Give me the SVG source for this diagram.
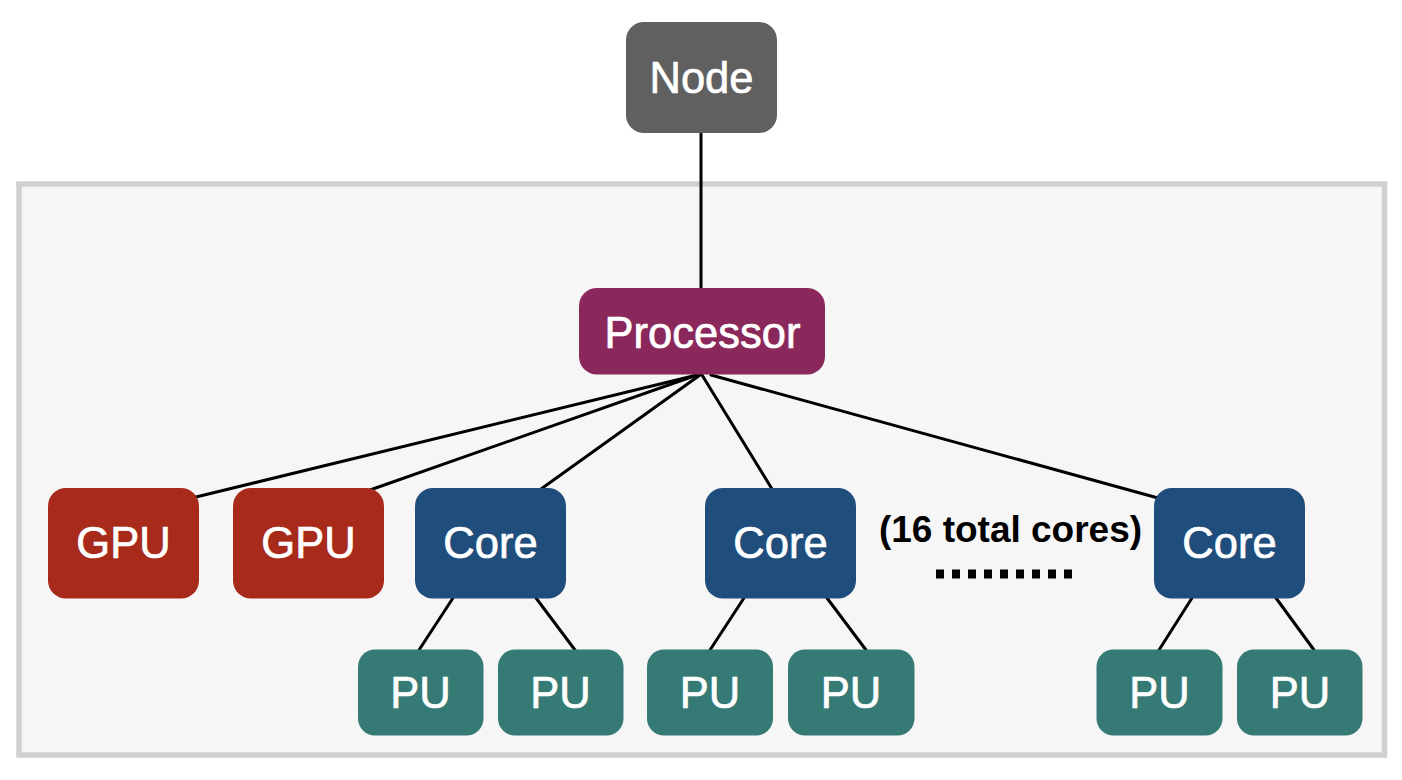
<svg xmlns="http://www.w3.org/2000/svg" width="1402" height="780" viewBox="0 0 1402 780">
<style>
.lbl{font-family:"Liberation Sans",Arial,Helvetica,sans-serif;font-size:43.5px;fill:#ffffff;stroke:#ffffff;stroke-width:0.7;text-anchor:middle}
.conn line{stroke:#000;stroke-width:3;stroke-linecap:round}
.node{fill:#606060}
.proc{fill:#8B285B}
.gpu{fill:#A72A1A}
.core{fill:#1F4E7D}
.pu{fill:#357A75}
</style>
<rect width="1402" height="780" fill="#ffffff"/>
<rect id="container" x="19" y="184" width="1365.5" height="571" fill="#f6f6f6" stroke="#d0d0d0" stroke-width="5.5"/>
<g id="connectors" class="conn">
<line x1="701" y1="133" x2="701" y2="288"/>
<line x1="697" y1="375" x2="196" y2="497"/>
<line x1="697" y1="375" x2="370" y2="490"/>
<line x1="700" y1="375" x2="541" y2="489"/>
<line x1="702" y1="375" x2="772" y2="489"/>
<line x1="711" y1="375" x2="1158" y2="498"/>
<line x1="453" y1="598" x2="419" y2="650"/>
<line x1="536" y1="598" x2="575" y2="650"/>
<line x1="744" y1="598" x2="710" y2="650"/>
<line x1="827" y1="598" x2="866" y2="650"/>
<line x1="1192" y1="598" x2="1159" y2="650"/>
<line x1="1276" y1="598" x2="1314" y2="650"/>
</g>
<g id="node-node"><rect class="node" x="626" y="22" width="151" height="111" rx="18"/><text class="lbl" x="701.5" y="92.5">Node</text></g>
<g id="node-processor"><rect class="proc" x="579" y="288" width="246" height="86.5" rx="18"/><text class="lbl" x="702.5" y="347.5">Processor</text></g>
<g id="node-gpu1"><rect class="gpu" x="48" y="488" width="151" height="110.5" rx="18"/><text class="lbl" x="123.5" y="558">GPU</text></g>
<g id="node-gpu2"><rect class="gpu" x="233" y="488" width="151" height="110.5" rx="18"/><text class="lbl" x="308.5" y="558">GPU</text></g>
<g id="node-core1"><rect class="core" x="415" y="488" width="151" height="110.5" rx="18"/><text class="lbl" x="490.5" y="558">Core</text></g>
<g id="node-core2"><rect class="core" x="705" y="488" width="151" height="110.5" rx="18"/><text class="lbl" x="780.5" y="558">Core</text></g>
<g id="node-core3"><rect class="core" x="1154" y="488" width="151" height="110.5" rx="18"/><text class="lbl" x="1229.5" y="558">Core</text></g>
<g id="node-pu1"><rect class="pu" x="358" y="649.5" width="125.5" height="86" rx="17"/><text class="lbl" x="420.5" y="707.5">PU</text></g>
<g id="node-pu2"><rect class="pu" x="498" y="649.5" width="125.5" height="86" rx="17"/><text class="lbl" x="560.5" y="707.5">PU</text></g>
<g id="node-pu3"><rect class="pu" x="647" y="649.5" width="126" height="86" rx="17"/><text class="lbl" x="710" y="707.5">PU</text></g>
<g id="node-pu4"><rect class="pu" x="788" y="649.5" width="126.5" height="86" rx="17"/><text class="lbl" x="851" y="707.5">PU</text></g>
<g id="node-pu5"><rect class="pu" x="1096.5" y="649.5" width="126" height="86" rx="17"/><text class="lbl" x="1159.5" y="707.5">PU</text></g>
<g id="node-pu6"><rect class="pu" x="1237" y="649.5" width="125.5" height="86" rx="17"/><text class="lbl" x="1300" y="707.5">PU</text></g>
<g id="note">
<text x="1010.5" y="541.5" font-family="Liberation Sans,Arial,Helvetica,sans-serif" font-size="37" font-weight="bold" fill="#000" text-anchor="middle">(16 total cores)</text>
<line x1="936" y1="574" x2="1072" y2="574" stroke="#000" stroke-width="9" stroke-dasharray="8 8"/>
</g>
</svg>
